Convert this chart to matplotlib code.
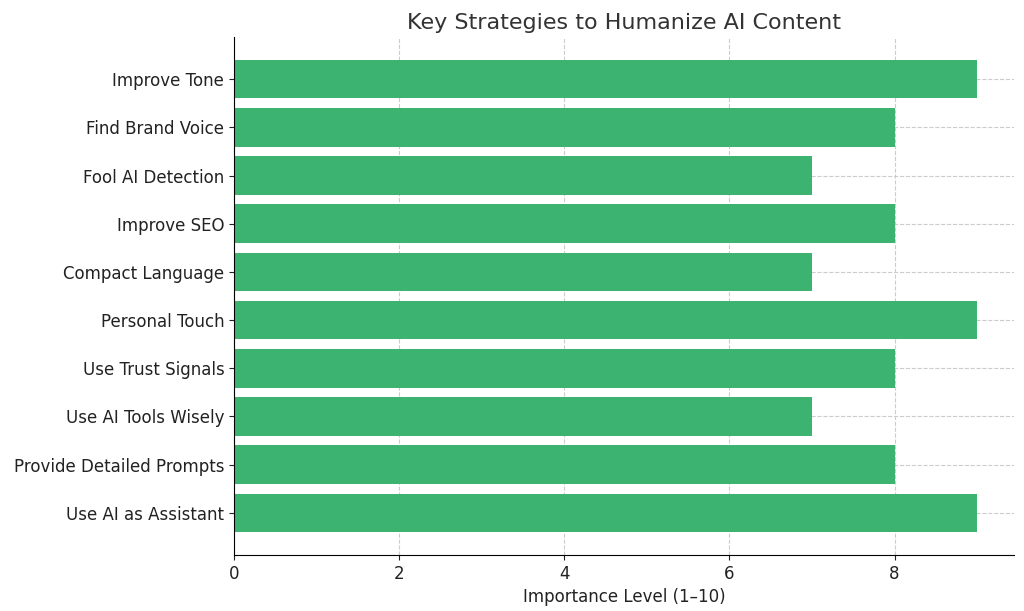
import matplotlib.pyplot as plt

strategies = [
    "Use AI as Assistant",
    "Provide Detailed Prompts",
    "Use AI Tools Wisely",
    "Use Trust Signals",
    "Personal Touch",
    "Compact Language",
    "Improve SEO",
    "Fool AI Detection",
    "Find Brand Voice",
    "Improve Tone",
]
importance = [9, 8, 7, 8, 9, 7, 8, 7, 8, 9]

fig = plt.figure(figsize=(10.24, 6.11), dpi=100)
ax = fig.add_axes([0.2285, 0.092, 0.762, 0.847])

ax.barh(strategies, importance, color="#3cb371", height=0.8, zorder=2)
ax.set_xlim(0, 9.45)
ax.set_ylim(-0.87, 9.87)
ax.set_xticks([0, 2, 4, 6, 8])
ax.grid(True, linestyle="--", color="#cccccc", linewidth=0.8, zorder=0)
ax.spines["top"].set_visible(False)
ax.spines["right"].set_visible(False)
ax.tick_params(labelsize=12, colors="#222222")
ax.set_xlabel("Importance Level (1–10)", fontsize=12, color="#222222")
ax.set_title("Key Strategies to Humanize AI Content", fontsize=16, color="#333333", pad=6)

fig.savefig("out.png", dpi=100)
